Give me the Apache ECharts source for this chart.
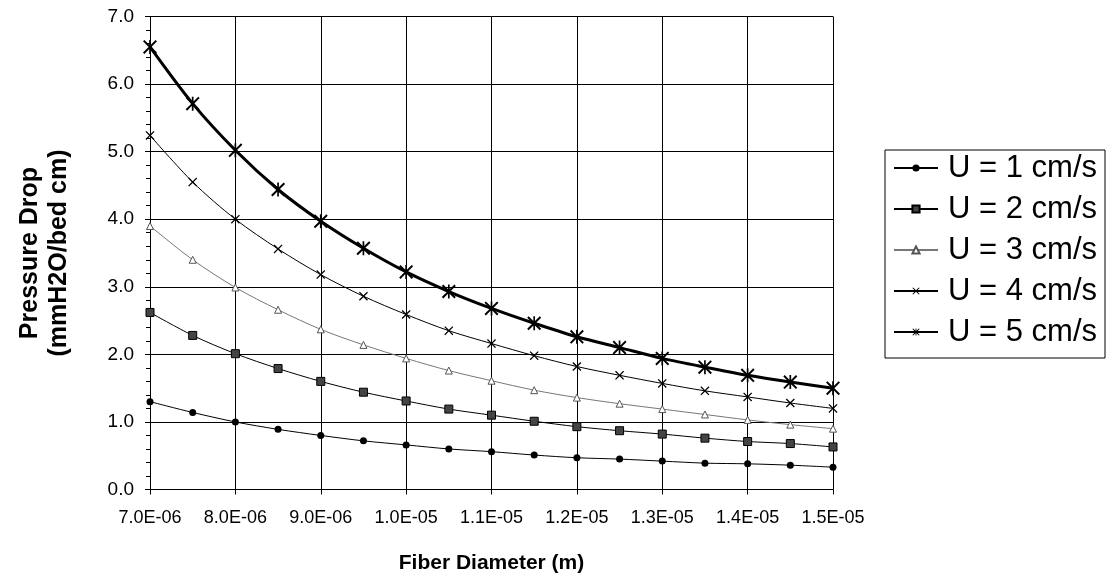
<!DOCTYPE html>
<html>
<head>
<meta charset="utf-8">
<script src="https://cdn.jsdelivr.net/npm/echarts@6/dist/echarts.min.js"></script>
<style>
html,body{margin:0;padding:0;background:#fff;}
#chart{width:1111px;height:584px;}
</style>
</head>
<body>
<div id="chart"></div>
<script>
// Fiber diameter (m)
var fiberDiameter = [7.0e-6, 7.5e-6, 8.0e-6, 8.5e-6, 9.0e-6, 9.5e-6, 1.0e-5, 1.05e-5, 1.1e-5, 1.15e-5, 1.2e-5, 1.25e-5, 1.3e-5, 1.35e-5, 1.4e-5, 1.45e-5, 1.5e-5];
var xTickLabels = ['7.0E-06','8.0E-06','9.0E-06','1.0E-05','1.1E-05','1.2E-05','1.3E-05','1.4E-05','1.5E-05'];
var seriesNames = ['U = 1 cm/s','U = 2 cm/s','U = 3 cm/s','U = 4 cm/s','U = 5 cm/s'];
// Pressure drop (mmH2O/bed cm)
var u1 = [1.30, 1.14, 1.00, 0.89, 0.80, 0.72, 0.66, 0.60, 0.56, 0.51, 0.47, 0.45, 0.42, 0.39, 0.38, 0.36, 0.33];
var u2 = [2.62, 2.28, 2.01, 1.79, 1.60, 1.44, 1.31, 1.19, 1.10, 1.01, 0.93, 0.87, 0.82, 0.76, 0.71, 0.68, 0.63];
var u3 = [3.90, 3.40, 2.99, 2.66, 2.37, 2.14, 1.94, 1.76, 1.61, 1.47, 1.36, 1.27, 1.19, 1.11, 1.03, 0.96, 0.90];
var u4 = [5.24, 4.55, 4.00, 3.56, 3.18, 2.86, 2.59, 2.35, 2.16, 1.98, 1.82, 1.69, 1.57, 1.46, 1.37, 1.28, 1.20];
var u5 = [6.55, 5.71, 5.02, 4.44, 3.97, 3.57, 3.22, 2.93, 2.68, 2.46, 2.26, 2.10, 1.94, 1.81, 1.69, 1.59, 1.50];

function pairs(ys){ return fiberDiameter.map(function(x,i){ return [x, ys[i]]; }); }

var FONT = "'Liberation Sans', Arial, sans-serif";
var xPath = 'path://M0,1L1,0L5,4L9,0L10,1L6,5L10,9L9,10L5,6L1,10L0,9L4,5Z';
var starPath = 'path://M0,1L1,0L5,4L9,0L10,1L6,5L10,9L9,10L5,6L1,10L0,9L4,5Z M4.4,0L5.6,0L5.6,10L4.4,10Z';

var styles = [
  {data:u1, symbol:'circle', size:7, color:'#000', lineColor:'#000', width:1, border:'#000'},
  {data:u2, symbol:'rect', size:8, color:'#444', lineColor:'#000', width:1, border:'#000'},
  {data:u3, symbol:'triangle', size:7, color:'#fff', lineColor:'#777', width:1, border:'#555'},
  {data:u4, symbol:xPath, size:9, color:'#000', lineColor:'#000', width:1, border:'#000'},
  {data:u5, symbol:starPath, size:14, color:'#000', lineColor:'#000', width:3, border:'#000'}
];

var series = styles.map(function(s, i){
  return {
    name: seriesNames[i],
    type: 'line',
    smooth: 0.3,
    data: pairs(s.data),
    symbol: s.symbol,
    symbolSize: s.size,
    showSymbol: true,
    lineStyle: {color: s.lineColor, width: s.width},
    itemStyle: {color: s.color, borderColor: s.border, borderWidth: s.symbol === 'triangle' || s.symbol === 'rect' ? 1 : 0},
    emphasis: {disabled: true},
    animation: false,
    z: 3 + i
  };
});

var chart = echarts.init(document.getElementById('chart'), null, {renderer:'canvas'});
chart.setOption({
  backgroundColor: '#fff',
  animation: false,
  grid: {left:150, right:278, top:16.5, bottom:94.5, containLabel:false, outerBoundsMode:'none'},
  xAxis: {
    type: 'value',
    min: 7e-6, max: 1.5e-5, interval: 1e-6,
    axisLine: {show:true, onZero:false, lineStyle:{color:'#000', width:1}},
    axisTick: {show:true, length:5, lineStyle:{color:'#000'}},
    splitLine: {show:true, lineStyle:{color:'#000', width:1}},
    axisLabel: {
      color:'#000', fontFamily:FONT, fontSize:18, margin:20, hideOverlap:false,
      formatter: function(v){ var k = Math.round(v*1e6) - 7; return xTickLabels[k] || ''; }
    },
    name: 'Fiber Diameter (m)',
    nameLocation: 'middle',
    nameGap: 63,
    nameTextStyle: {color:'#000', fontFamily:FONT, fontSize:21, fontWeight:'bold'}
  },
  yAxis: {
    type: 'value',
    min: 0, max: 7, interval: 1,
    axisLine: {show:true, lineStyle:{color:'#000', width:1}},
    axisTick: {show:true, length:5, lineStyle:{color:'#000'}},
    minorTick: {show:true, splitNumber:5, length:4, lineStyle:{color:'#000'}},
    splitLine: {show:true, lineStyle:{color:'#000', width:1}},
    axisLabel: {color:'#000', fontFamily:FONT, fontSize:19, margin:16, formatter: function(v){ return v.toFixed(1); }},
    name: 'Pressure Drop\n(mmH2O/bed cm)',
    nameLocation: 'middle',
    nameRotate: 90,
    nameGap: 76,
    nameTextStyle: {color:'#000', fontFamily:FONT, fontSize:25, fontWeight:'bold', lineHeight:29}
  },
  legend: {
    orient: 'vertical',
    left: 885, top: 150,
    backgroundColor: '#fff',
    borderColor: '#000', borderWidth: 1, borderRadius: 0,
    padding: [2, 8, 10, 8],
    itemWidth: 44, itemHeight: 9, itemGap: 9,
    textStyle: {color:'#000', fontFamily:FONT, fontSize:31, lineHeight:32, padding:[0,0,0,5]},
    data: seriesNames
  },
  series: series
});
</script>
</body>
</html>
